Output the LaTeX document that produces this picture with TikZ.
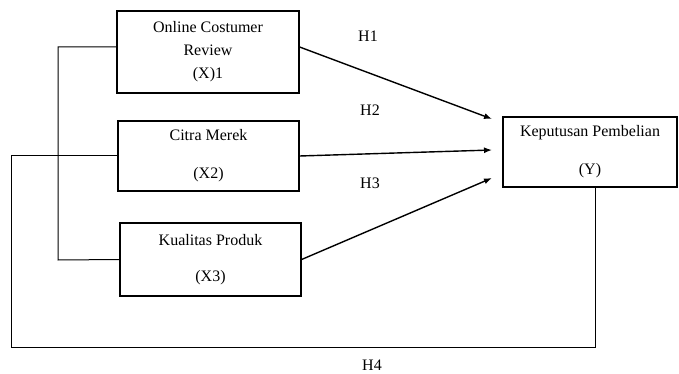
\documentclass[tikz,border=0pt]{standalone}
\usepackage{fontspec}
\setmainfont{Liberation Serif}
\usetikzlibrary{arrows.meta}
\begin{document}
\begin{tikzpicture}[x=1pt,y=-1pt,
    every node/.style={font=\fontsize{16}{23}\selectfont},
    varbox/.style={draw,line width=1.2pt,align=center,inner sep=0pt},
    hlabel/.style={inner sep=0pt},
    link/.style={line width=1pt},
    hyp/.style={-{Latex[length=8pt,width=6pt]},line width=1.4pt}]
  \useasboundingbox (0,0) rectangle (679,374);
  % variable boxes
  \node[varbox,minimum width=182,minimum height=82] (x1) at (208,52) {Online Costumer\\Review\\(X)1};
  \node[varbox,minimum width=181,minimum height=70] (x2) at (208.5,156) {Citra Merek\\[15pt](X2)};
  \node[varbox,minimum width=181,minimum height=73] (x3) at (210.5,259.5) {Kualitas Produk\\[13pt](X3)};
  \node[varbox,minimum width=174,minimum height=70] (y) at (590,152) {Keputusan Pembelian\\[15pt](Y)};
  % arrow tips in front of the Y box
  \coordinate (h1tip) at (492,119);
  \coordinate (h2tip) at (492,150);
  \coordinate (h3tip) at (492,178);
  % hypotheses
  \draw[hyp] ([yshift=5pt]x1.east) -- (h1tip);
  \draw[hyp] (x2.east) -- (h2tip);
  \draw[hyp] (x3.east) -- (h3tip);
  \draw[link] ([yshift=5pt]x1.west) -| (58,260) -- (x3.west);
  \draw[link] (x2.west) -| (11,347) -| ([xshift=5pt]y.south);
  % labels
  \node[hlabel] (h1) at (368,36) {H1};
  \node[hlabel] (h2) at (370,110) {H2};
  \node[hlabel] (h3) at (370,183) {H3};
  \node[hlabel] (h4) at (372,365) {H4};
\end{tikzpicture}
\end{document}
